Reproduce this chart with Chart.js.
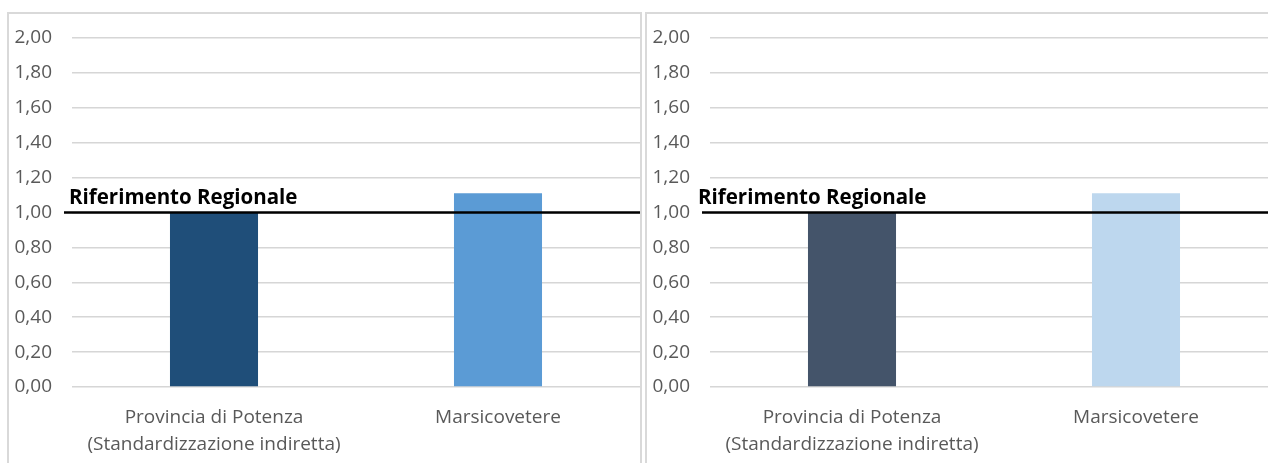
<!DOCTYPE html>
<html>
<head>
<meta charset="utf-8">
<script src="https://cdn.jsdelivr.net/npm/chart.js@4.4.1/dist/chart.umd.min.js"></script>
<style>
  html, body { margin: 0; padding: 0; background: #fff; overflow: hidden; width: 1268px; height: 463px; }
  .panel { position: absolute; top: 12px; border: 2px solid #d9d9d9; border-bottom: none; background: #fff; width: 631px; height: 449px; }
  .panel canvas { display: block; }
</style>
</head>
<body>
<div class="panel" style="left:7px"><canvas id="c1" width="631" height="449"></canvas></div>
<div class="panel" style="left:645px"><canvas id="c2" width="631" height="449"></canvas></div>
<script>
// Categories shown on the x axis (multi-line labels as arrays)
const categories = [["Provincia di Potenza", "(Standardizzazione indiretta)"], ["Marsicovetere"]];
// Values for the two panels
const leftValues = [1.00, 1.11];
const rightValues = [1.00, 1.11];
// Colours per panel
const leftColors = ["#1F4E79", "#5B9BD5"];
const rightColors = ["#44546A", "#BDD7EE"];
// Regional reference value and its label
const referenceValue = 1.00;
const referenceLabel = "Riferimento Regionale";
// Y axis range
const yMin = 0, yMax = 2, yStep = 0.2;

const FONT = "'Open Sans', sans-serif";

// Draws the horizontal regional reference line with its bold caption
const referenceLine = {
  id: 'referenceLine',
  afterDatasetsDraw(chart, args, opts) {
    const { ctx, chartArea, scales } = chart;
    const y = scales.y.getPixelForValue(referenceValue);
    ctx.save();
    ctx.strokeStyle = '#000';
    ctx.lineWidth = 2.5;
    ctx.beginPath();
    ctx.moveTo(chartArea.left - 8, y);
    ctx.lineTo(chartArea.right + 4, y);
    ctx.stroke();
    ctx.fillStyle = '#000';
    ctx.font = "bold 20.5px " + FONT;
    ctx.textBaseline = 'alphabetic';
    ctx.textAlign = 'left';
    ctx.fillText(referenceLabel, chartArea.left + (opts.labelShift || 0), y - 9);
    ctx.restore();
  }
};

function makeChart(id, values, colors, labelShift) {
  return new Chart(document.getElementById(id), {
    type: 'bar',
    data: {
      labels: categories,
      datasets: [{
        data: values,
        backgroundColor: colors,
        borderWidth: 0,
        categoryPercentage: 1,
        barPercentage: 0.31
      }]
    },
    options: {
      responsive: false,
      animation: false,
      layout: { padding: { top: 24, right: 0, left: 0, bottom: 0 } },
      plugins: {
        legend: { display: false },
        tooltip: { enabled: false },
        referenceLine: { labelShift: labelShift }
      },
      scales: {
        x: {
          grid: { display: false },
          border: { display: false },
          ticks: {
            color: '#595959',
            font: { family: FONT, size: 19, lineHeight: 1.42 },
            padding: 9,
            maxRotation: 0,
            autoSkip: false
          },
          afterFit(scale) { scale.height = 76; scale.paddingLeft = 0; scale.paddingRight = 0; }
        },
        y: {
          min: yMin,
          max: yMax,
          border: { display: false },
          grid: { color: '#d6d6d6', lineWidth: 1.5, drawTicks: false },
          ticks: {
            stepSize: yStep,
            color: '#595959',
            font: { family: FONT, size: 19 },
            padding: 20,
            callback: v => v.toFixed(2).replace('.', ',')
          },
          afterFit(scale) { scale.width = 63; scale.paddingTop = 0; scale.paddingBottom = 0; }
        }
      }
    },
    plugins: [referenceLine]
  });
}

makeChart('c1', leftValues, leftColors, -3);
makeChart('c2', rightValues, rightColors, -12);
</script>
</body>
</html>
